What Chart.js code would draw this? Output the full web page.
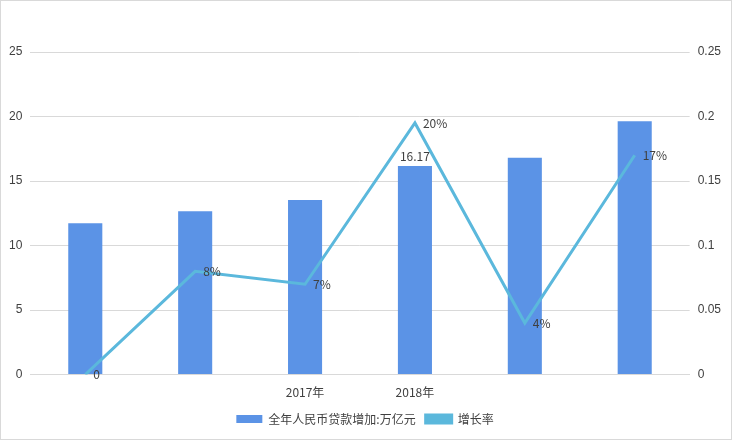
<!DOCTYPE html>
<html>
<head>
<meta charset="utf-8">
<script src="https://cdn.jsdelivr.net/npm/chart.js@4/dist/chart.umd.min.js"></script>
<style>
  html, body { margin: 0; background: #fff; }
  #wrap { width: 730px; height: 438px; border: 1px solid #d9d9d9; }
</style>
</head>
<body>
<div id="wrap"><canvas id="c"></canvas></div>
<script>
const categories = ["2015年", "2016年", "2017年", "2018年", "2019年", "2020年"];
const visibleTicks = ["2017年", "2018年"];
const loans = [11.72, 12.65, 13.53, 16.17, 16.81, 19.63];
const loanLabels = ["", "", "", "16.17", "", ""];
const growth = [0, 0.08, 0.07, 0.195, 0.04, 0.17];
const growthLabels = ["0", "8%", "7%", "20%", "4%", "17%"];

const labelPlugin = {
  id: "labels",
  afterDatasetsDraw(chart) {
    const ctx = chart.ctx;
    ctx.save();
    ctx.font = "12px 'Noto Sans CJK SC', sans-serif";
    ctx.fillStyle = "#404040";
    chart.getDatasetMeta(0).data.forEach((bar, i) => {
      if (!loanLabels[i]) return;
      ctx.textAlign = "center";
      ctx.textBaseline = "bottom";
      ctx.fillText(loanLabels[i], bar.x, bar.y - 4);
    });
    chart.getDatasetMeta(1).data.forEach((pt, i) => {
      ctx.textAlign = "left";
      ctx.textBaseline = "middle";
      ctx.fillText(growthLabels[i], pt.x + 8, pt.y);
    });
    ctx.restore();
  }
};

new Chart(document.getElementById("c"), {
  type: "bar",
  data: {
    labels: categories,
    datasets: [
      {
        label: "全年人民币贷款增加:万亿元",
        data: loans,
        backgroundColor: "#5b93e6",
        categoryPercentage: 1,
        barPercentage: 0.31,
        yAxisID: "y",
        order: 2
      },
      {
        type: "line",
        label: "增长率",
        data: growth,
        borderColor: "#5bb8dc",
        backgroundColor: "#5bb8dc",
        borderWidth: 3,
        pointRadius: 0,
        tension: 0,
        yAxisID: "y1",
        order: 1
      }
    ]
  },
  options: {
    responsive: true,
    maintainAspectRatio: false,
    animation: false,
    layout: { padding: { top: 51, left: 0, right: 2, bottom: 4 } },
    plugins: {
      legend: {
        position: "bottom",
        labels: {
          sort: (a, b) => a.datasetIndex - b.datasetIndex,
          boxWidth: 26, boxHeight: 8, color: "#404040",
          font: { size: 12, family: "'Noto Sans CJK SC', sans-serif" }
        }
      },
      tooltip: { enabled: false }
    },
    scales: {
      x: {
        grid: { display: false },
        border: { color: "#d9d9d9" },
        ticks: {
          color: (c) => visibleTicks.includes(categories[c.index]) ? "#404040" : "#ffffff",
          font: { size: 12, family: "'Noto Sans CJK SC', sans-serif" }
        }
      },
      y: {
        position: "left", min: 0, max: 25,
        ticks: { stepSize: 5, color: "#404040", padding: 8, font: { size: 12 } },
        grid: { color: "#d9d9d9", drawTicks: false },
        border: { display: false }
      },
      y1: {
        position: "right", min: 0, max: 0.25,
        ticks: {
          stepSize: 0.05, color: "#404040", padding: 8, font: { size: 12 },
          callback: (v) => String(Math.round(v * 100) / 100)
        },
        grid: { display: false, drawTicks: false },
        border: { display: false }
      }
    }
  },
  plugins: [labelPlugin]
});
</script>
</body>
</html>
